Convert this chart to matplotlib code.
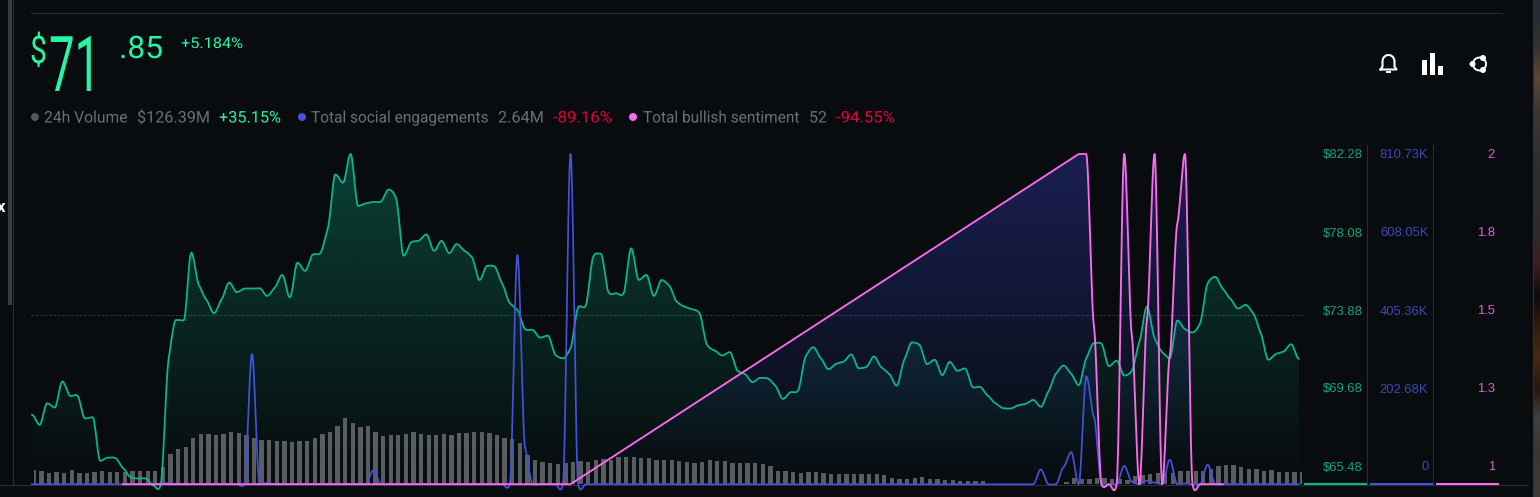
import numpy as np
import matplotlib
matplotlib.use("Agg")
import matplotlib.pyplot as plt
from matplotlib.patches import Rectangle, Circle, PathPatch
from matplotlib.path import Path
from matplotlib.patheffects import AbstractPathEffect
from matplotlib.transforms import Affine2D
from matplotlib.colors import to_rgb

nan = float("nan")

# ---------- data ----------
price = [69.01,68.50,69.60,69.38,70.71,69.98,69.98,68.82,68.89,66.67,66.83,66.81,66.30,65.83,65.77,65.77,65.42,65.54,71.81,73.84,
         73.81,77.26,75.62,74.86,74.18,74.89,75.74,75.25,75.43,75.43,75.45,75.06,75.48,76.13,74.98,76.75,76.33,77.16,77.23,78.50,
         81.24,80.82,82.28,79.64,79.77,79.84,79.86,80.47,80.02,77.11,77.79,77.87,78.19,77.35,77.86,77.23,77.70,77.36,77.03,75.87,
         76.59,76.55,75.67,74.69,74.35,73.37,73.33,72.94,73.04,72.06,71.89,72.40,74.47,74.57,77.06,77.20,75.25,75.20,75.20,77.48,
         75.87,76.13,75.06,75.87,75.59,74.77,74.52,74.38,74.18,72.57,72.28,72.03,72.20,71.26,71.08,70.67,70.89,70.86,70.49,69.82,
         70.16,70.25,71.98,72.45,71.89,71.33,71.60,71.72,72.08,71.38,71.45,71.98,71.42,71.10,70.49,71.81,72.69,72.57,71.59,71.81,
         71.03,71.71,71.25,71.37,70.43,70.43,69.99,69.60,69.35,69.33,69.49,69.57,69.77,69.42,70.20,71.10,71.52,71.10,70.52,71.89,
         72.65,72.62,71.48,71.77,71.01,71.25,72.74,74.52,72.91,72.20,71.89,73.81,73.37,73.20,73.67,75.70,76.03,75.42,74.91,74.42,
         74.60,74.18,73.16,71.81,72.11,72.23,72.60,71.87]
volume_m = [14,13,11,12,11,14,11,11,12,13,12,12,12,13,13,13,13,17,30,35,37,46,50,50,49,50,52,51,49,46,44,44,43,43,42,43,43,46,50,52,
            58,66,61,57,58,52,48,49,49,50,52,50,49,49,50,49,51,51,52,52,51,49,46,45,41,29,24,22,21,20,21,22,23,22,24,25,24,27,27,27,26,26,24,
            24,24,23,22,21,22,24,23,23,21,21,21,21,20,18,13,13,12,11,12,12,11,10,10,10,10,10,10,10,9,6,5,5,6,7,5,5,4,4,3,3,3,3,
            .7,.7,.7,.7,.7,.7,.7,0,.5,.5,
            2,6,5,5,6,6,5,5,4,8,9,10,11,11,11,13,13,13,13,15,18,19,19,17,15,15,13,14,12,12,12,12]
social_k = ([0.0]*18 + [3] + [0.0]*10 + [320, 0, 3] + [0.0]*13 + [34] + [0.0]*18 + [563, 91] + [0.0]*5 + [810.73]
            + [0.0]*61 + [36, 0, 0, 42, 79, 0, 265, 165, 0, 0, 0, 45, 6, 0, 9, 4, 0, 60, 0, 2, 0, 0, 48] + [0.0]*12)
sentiment = ([nan]*12 + [1.0]*60 + [nan]*66
             + [2.0,2.0,1.48,1.0,1.0,1.0,2.0,1.45,1.0,1.5,2.0,1.0,1.39,1.79,2.0,1.0,1.0,1.0,1.0,1.0] + [nan]*10)
price_ticks = [65.48, 69.68, 73.88, 78.08, 82.28]
price_labels = ["$65.48", "$69.68", "$73.88", "$78.08", "$82.28"]
social_ticks = [0, 202.68, 405.36, 608.05, 810.73]
social_labels = ["0", "202.68K", "405.36K", "608.05K", "810.73K"]
sent_ticks = [1, 1.25, 1.5, 1.75, 2]
sent_labels = ["1", "1.3", "1.5", "1.8", "2"]

# ---------- style ----------
W, H = 1540, 497
BG = "#080c0e"
GREEN, BLUE, PINK = "#0bb48c", "#4352dc", "#f96bea"
BRIGHT = "#24f5a6"
GREY = "#6b7173"
RED = "#e0003c"
LINE = "#2b2e30"
TOP, BASE = 154.0, 484.2
SANS = ["Roboto", "DejaVu Sans"]

fig = plt.figure(figsize=(W/100, H/100), dpi=100, facecolor=BG)
chrome = fig.add_axes([0, 0, 1, 1], zorder=0)
chrome.set_xlim(0, W); chrome.set_ylim(H, 0); chrome.axis("off")


class Stretch(AbstractPathEffect):
    """Scale a text's glyphs about its left edge and baseline."""
    def __init__(self, sx, x0, sy=1.0, y0=0.0):
        super().__init__()
        self.sx, self.x0, self.sy, self.y0 = sx, x0, sy, y0

    def draw_path(self, renderer, gc, tpath, affine, rgbFace=None):
        a = affine + Affine2D().translate(-self.x0, -self.y0).scale(self.sx, self.sy).translate(self.x0, self.y0)
        renderer.draw_path(gc, tpath, a, rgbFace)


def put(s, x0, x1, y, px, color, family=SANS, weight="normal", sy=1.0):
    t = chrome.text(x0, y, s, color=color, fontsize=px*0.72, family=family, weight=weight,
                    ha="left", va="baseline", zorder=20)
    bb = t.get_window_extent(fig.canvas.get_renderer())
    t.set_path_effects([Stretch((x1-x0)/bb.width, bb.x0, sy, H-y)])
    return t


def layer(z, xlim, ylim, x0=32.0, x1=1298.7):
    ax = fig.add_axes([x0/W, 1-BASE/H, (x1-x0)/W, (BASE-TOP)/H], zorder=z)
    ax.set_xlim(*xlim); ax.set_ylim(*ylim)
    ax.axis("off"); ax.patch.set_visible(False)
    return ax


def smooth(y, c=0.5, n=14):
    y = np.asarray(y, float)
    x = np.arange(len(y), dtype=float)
    ok = ~np.isnan(y)
    x, y = x[ok], y[ok]
    top = y.max()
    m = np.zeros_like(y)
    for i in range(1, len(y)-1):
        if x[i+1]-x[i] == 1 and x[i]-x[i-1] == 1:
            if (y[i]-y[i-1])*(y[i+1]-y[i]) >= 0:
                m[i] = c*(y[i+1]-y[i-1])/2
    X, Y = [x[0]], [y[0]]
    for i in range(len(y)-1):
        d = x[i+1]-x[i]
        if d > 1:
            X.append(x[i+1]); Y.append(y[i+1]); continue
        t = np.linspace(0, 1, n+1)[1:]
        h00, h10 = 2*t**3-3*t**2+1, t**3-2*t**2+t
        h01, h11 = -2*t**3+3*t**2, t**3-t**2
        X.extend(x[i]+t)
        Y.extend(h00*y[i]+h10*m[i]+h01*y[i+1]+h11*m[i+1])
    return np.array(X), np.minimum(np.array(Y), top)


def grad_fill(ax, X, Y, base, color, a_top):
    r, g, b = to_rgb(color)
    arr = np.zeros((256, 1, 4))
    arr[..., 0], arr[..., 1], arr[..., 2] = r, g, b
    arr[:, 0, 3] = np.linspace(a_top, 0.0, 256)
    xl, yl = ax.get_xlim(), ax.get_ylim()
    im = ax.imshow(arr, extent=[xl[0], xl[1], yl[0], yl[1]], origin="upper", aspect="auto", zorder=1)
    verts = np.vstack([[X[0], base], np.column_stack([X, Y]), [X[-1], base], [X[0], base]])
    im.set_clip_path(PathPatch(Path(verts), transform=ax.transData))
    ax.set_xlim(xl); ax.set_ylim(yl)


idx = np.arange(len(price))
XL = (0, len(price)-1)

# ---------- chrome ----------
chrome.add_patch(Rectangle((8, 0), 4, 305, color="#3a3d3f", lw=0))
chrome.plot([12.5, 12.5], [0, 485], color=LINE, lw=0.8)
chrome.plot([31, 1502], [12.5, 12.5], color=LINE, lw=0.8)
chrome.plot([0, 1528], [485.3, 485.3], color=LINE, lw=0.8)
chrome.plot([31, 1304], [315, 315], color="#34383a", lw=0.7, ls=(0, (3, 1.5)))
for xv in (1367.3, 1433.3):
    chrome.plot([xv, xv], [145, 485], color=LINE, lw=0.8)
for a, b, c in ((1304, 1367, GREEN), (1370, 1433, BLUE), (1436, 1499, PINK)):
    chrome.plot([a, b], [484, 484], color=c, lw=1.5, solid_capstyle="butt")

# photographic strip at the right edge
strip = np.array([[38,44,52],[52,50,48],[92,72,52],[60,56,52],[52,50,50],[46,44,46],[46,44,44],
                  [46,42,42],[60,30,36],[14,10,10],[48,28,16],[72,42,22],[40,24,14],[66,66,66],[58,54,52],[62,58,54]], float)/255
chrome.imshow(strip[:, None, :], extent=[1533, 1540, 497, 0], aspect="auto", interpolation="bilinear", zorder=1)
chrome.set_xlim(0, W); chrome.set_ylim(H, 0)
chrome.plot([1532.5, 1532.5], [0, 497], color="#2e3133", lw=0.8)
chrome.text(-3, 212, "x", color="white", fontsize=12, family=SANS, weight="bold", zorder=20)

# ---------- header ----------
put("$", 30, 47, 63, 38, BRIGHT)
put("71", 49, 100, 91, 44, BRIGHT, sy=77/44)
put(".85", 119, 163, 58, 31, BRIGHT)
put("+5.184%", 181, 243, 48, 15, BRIGHT)

ROW = 122.5
chrome.add_patch(Circle((35, 117), 4, color="#54595b", lw=0))
put("24h Volume", 44, 128, ROW, 16, GREY)
put("$126.39M", 137, 210, ROW, 16, GREY)
put("+35.15%", 219, 281, ROW, 16, BRIGHT)
chrome.add_patch(Circle((302, 117), 4, color=BLUE, lw=0))
put("Total social engagements", 311, 489, ROW, 16, GREY)
put("2.64M", 498, 544, ROW, 16, GREY)
put("-89.16%", 553, 612, ROW, 16, RED)
chrome.add_patch(Circle((633, 117), 4, color=PINK, lw=0))
put("Total bullish sentiment", 643, 800, ROW, 16, GREY)
put("52", 809, 827, ROW, 16, GREY)
put("-94.55%", 836, 895, ROW, 16, RED)

# ---------- icons ----------
tt = np.linspace(np.pi, 0, 30)
bx = np.r_[1380.5, 1382.5, 1382.5, 1388.5+6*np.cos(tt)[1:-1], 1394.5, 1394.5, 1396.5, 1380.5]
by = np.r_[69.5, 66.5, 61.5, 61.5-6.5*np.sin(tt)[1:-1], 61.5, 66.5, 69.5, 69.5]
chrome.plot(bx, by, color="white", lw=1.5, solid_joinstyle="round")
chrome.add_patch(Rectangle((1386, 70.5), 5, 2.5, color="white", lw=0))
for xb, yb in ((1422, 60), (1430, 53), (1438, 66)):
    chrome.add_patch(Rectangle((xb, yb), 4.5, 74.5-yb, color="white", lw=0))
chrome.add_patch(Circle((1479.5, 64), 6.5, fill=False, ec="white", lw=1.4))
for cx, cy, r in ((1472.5, 64, 3), (1483, 58, 3), (1483, 70, 3)):
    chrome.add_patch(Circle((cx, cy), r, color="white", lw=0))

# ---------- chart layers ----------
PR = (price_ticks[0], price_ticks[-1])
SO = (social_ticks[0], social_ticks[-1])
SE = (sent_ticks[0], sent_ticks[-1])

ax_pf = layer(2, XL, PR)
px, py = smooth(price, c=0.6)
grad_fill(ax_pf, px, py, PR[0], "#0fb88e", 0.30)

ax_sf = layer(3, XL, SE)
sx, sy = smooth(sentiment, c=0.25)
mask = sx >= 71
grad_fill(ax_sf, sx[mask], np.maximum(sy[mask], 1), 1, "#3a47d8", 0.34)

ax_v = layer(4, XL, (0, BASE-TOP), x0=33.8, x1=1302.0)
ax_v.bar(idx, volume_m, width=0.57, color="#5a5d5f", lw=0)

ax_p = layer(5, XL, PR)
ax_p.plot(px, py, color=GREEN, lw=1.3, clip_on=False)

ax_s = layer(6, XL, SO)
bx2, by2 = smooth(social_k, c=0.22)
ax_s.plot(bx2, by2, color=BLUE, lw=1.25, clip_on=False)

ax_e = layer(7, XL, SE)
ax_e.plot(sx, sy, color=PINK, lw=1.35, clip_on=False)


def tick_axis(xr, ticks, labels, color):
    ax = fig.add_axes([xr/W, 1-466/H, 0.0005, (466-154)/H], zorder=10)
    ax.set_ylim(ticks[0], ticks[-1])
    ax.patch.set_visible(False)
    for s in ax.spines.values():
        s.set_visible(False)
    ax.set_xticks([])
    ax.set_yticks(ticks, labels)
    ax.tick_params(axis="y", length=0, pad=0, labelsize=9.4, labelcolor=color)
    for lb in ax.get_yticklabels():
        lb.set_family(["Liberation Sans", "DejaVu Sans"])


tick_axis(1362.5, price_ticks, price_labels, "#0ca37f")
tick_axis(1428.5, social_ticks, social_labels, "#3f48b6")
tick_axis(1495, sent_ticks, sent_labels, "#dc62d6")

fig.savefig("out.png", dpi=100, facecolor=BG)
